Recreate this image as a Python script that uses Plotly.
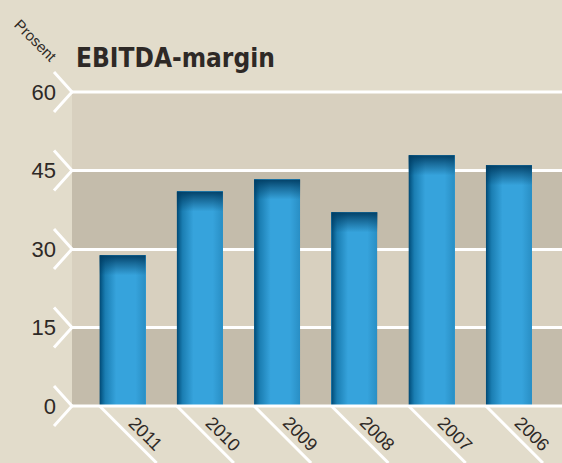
import plotly.graph_objects as go

# ---- data ----
years = ["2011", "2010", "2009", "2008", "2007", "2006"]
ebitda_margin = [28.8, 41.0, 43.3, 37.0, 47.9, 46.0]
y_ticks = [0, 15, 30, 45, 60]
y_tick_labels = ["0", "15", "30", "45", "60"]
title_text = "EBITDA-margin"
unit_text = "Prosent"

# ---- style ----
PAPER = "#e2dccb"
BAND_LIGHT = "#d8d0bf"
BAND_DARK = "#c4bcab"
BAR = "#36a3dc"
TEXT = "#2e2926"
FONT = "Liberation Sans, Arial, sans-serif"
FONT_T = "DejaVu Sans Condensed, Liberation Sans, Arial, sans-serif"

W, H = 562, 463
ML, MR, MT, MB = 72, 0, 92, 57
PW, PH = W - ML - MR, H - MT - MB

step_px = 77.27
first_px = 122.6
x_min = -(first_px - ML) / step_px
x_max = (W - first_px) / step_px
bar_w = 0.595
pos = list(range(len(years)))
y_max = y_ticks[-1]

fig = go.Figure()

fig.add_trace(go.Bar(x=pos, y=ebitda_margin, width=bar_w,
                     marker=dict(color=BAR, line=dict(width=0)),
                     hoverinfo="skip", showlegend=False))

# gradient shading on bars
units_per_px_y = y_max / PH
for p, v in zip(pos, ebitda_margin):
    x0, x1 = p - bar_w / 2, p + bar_w / 2
    xl = x0 + 0.36 * bar_w
    fig.add_trace(go.Scatter(
        x=[x0, xl, xl, x0, x0], y=[0, 0, v, v, 0], mode="lines",
        fill="toself", line=dict(width=0), hoverinfo="skip", showlegend=False,
        fillgradient=dict(type="horizontal", start=x0, stop=xl,
                          colorscale=[[0, "rgba(0,72,115,1)"],
                                      [0.35, "rgba(0,90,138,0.5)"],
                                      [1, "rgba(0,90,138,0)"]])))
    xr = x1 - 0.22 * bar_w
    fig.add_trace(go.Scatter(
        x=[xr, x1, x1, xr, xr], y=[0, 0, v, v, 0], mode="lines",
        fill="toself", line=dict(width=0), hoverinfo="skip", showlegend=False,
        fillgradient=dict(type="horizontal", start=xr, stop=x1,
                          colorscale=[[0, "rgba(0,80,125,0)"],
                                      [1, "rgba(0,80,125,0.25)"]])))
    yt = v - 20 * units_per_px_y
    fig.add_trace(go.Scatter(
        x=[x0, x1, x1, x0, x0], y=[yt, yt, v, v, yt], mode="lines",
        fill="toself", line=dict(width=0), hoverinfo="skip", showlegend=False,
        fillgradient=dict(type="vertical", start=yt, stop=v,
                          colorscale=[[0, "rgba(0,60,98,0)"],
                                      [0.6, "rgba(0,60,98,0.55)"],
                                      [1, "rgba(0,60,98,0.95)"]])))

shapes = []
# alternating bands
for i in range(len(y_ticks) - 1):
    shapes.append(dict(type="rect", xref="paper", yref="y", x0=0, x1=1,
                       y0=y_ticks[i], y1=y_ticks[i + 1], layer="below",
                       line=dict(width=0),
                       fillcolor=BAND_DARK if i % 2 == 0 else BAND_LIGHT))
# chevrons at each y tick
arm_x = -18 / PW
arm_y = 20 / PH
for t in y_ticks:
    yp = t / y_max
    shapes.append(dict(type="path", xref="paper", yref="paper",
                       path=f"M {arm_x},{yp + arm_y} L 0,{yp} L {arm_x},{yp - arm_y}",
                       line=dict(color="white", width=3)))
# lines at 0 and 60
for t in (y_ticks[0], y_ticks[-1]):
    shapes.append(dict(type="line", xref="paper", yref="paper", x0=0, x1=1,
                       y0=t / y_max, y1=t / y_max, line=dict(color="white", width=3)))
# diagonal lines below the axis
drop = MB / PH
for p in pos:
    x0 = p - bar_w / 2
    shapes.append(dict(type="line", xref="x", yref="paper", x0=x0, y0=0,
                       x1=x0 + MB / step_px, y1=-drop,
                       line=dict(color="white", width=3)))

annotations = []
for p, yr in zip(pos, years):
    annotations.append(dict(x=p + 23 / step_px, y=-28 / PH, xref="x", yref="paper",
                            text=yr, showarrow=False, textangle=45,
                            xanchor="center", yanchor="middle",
                            font=dict(family=FONT, size=18, color=TEXT)))
annotations.append(dict(x=(74 - ML) / PW, y=(406 - 58) / PH, xref="paper", yref="paper",
                        text=f"<b>{title_text}</b>", showarrow=False,
                        xanchor="left", yanchor="middle",
                        font=dict(family=FONT_T, size=26, color=TEXT)))
annotations.append(dict(x=(36 - ML) / PW, y=(406 - 40) / PH, xref="paper", yref="paper",
                        text=unit_text, showarrow=False, textangle=45,
                        xanchor="center", yanchor="middle",
                        font=dict(family=FONT, size=15, color=TEXT)))

fig.update_layout(
    width=W, height=H,
    margin=dict(l=ML, r=MR, t=MT, b=MB, pad=0),
    paper_bgcolor=PAPER, plot_bgcolor=PAPER,
    showlegend=False, bargap=0,
    shapes=shapes, annotations=annotations,
    xaxis=dict(range=[x_min, x_max], showticklabels=False, showgrid=False,
               zeroline=False, showline=False, ticks="", fixedrange=True),
    yaxis=dict(range=[0, y_max], tickvals=y_ticks, ticktext=y_tick_labels,
               showgrid=True, gridcolor="white", gridwidth=3,
               zeroline=False, showline=False, ticks="",
               ticklabelstandoff=15,
               tickfont=dict(family=FONT, size=22, color=TEXT),
               fixedrange=True),
)

fig.write_html("out.html", config={"displayModeBar": False})

# remove the browser's default page margin so the figure fills the window
with open("out.html", encoding="utf-8") as f:
    html = f.read()
html = html.replace("<body>", '<body style="margin:0;padding:0;overflow:hidden">', 1)
with open("out.html", "w", encoding="utf-8") as f:
    f.write(html)
